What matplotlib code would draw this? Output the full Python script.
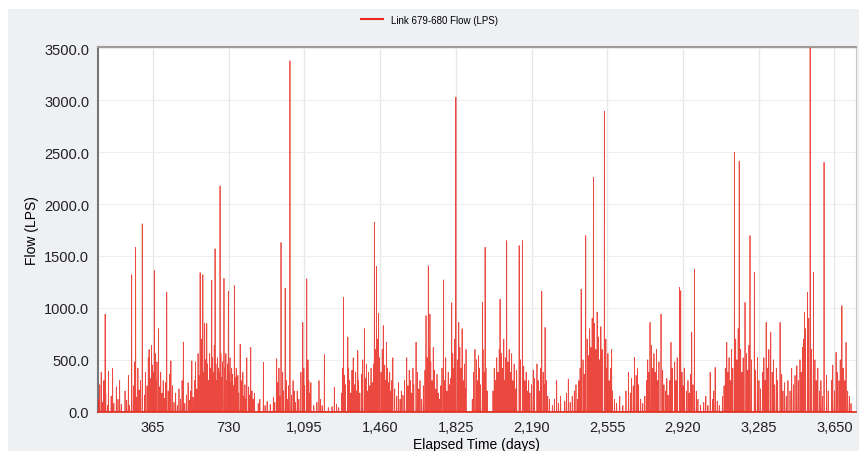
import numpy as np
import matplotlib
matplotlib.use('Agg')
import matplotlib.pyplot as plt
from matplotlib.patches import Rectangle
from matplotlib.ticker import FuncFormatter

plt.rcParams['font.family'] = ['Liberation Sans', 'DejaVu Sans']

# storm peaks (day, LPS)
peak_days = [134, 262, 281, 313, 371, 391, 431, 451, 511, 552, 592, 605, 624, 648, 664, 688,
             707, 728, 757, 785, 817, 836, 897, 961, 982, 1002, 1025, 1087, 1106, 1165, 1191,
             1239, 1283, 1304, 1352, 1384, 1432, 1442, 1452, 1475, 1491, 1521, 1588, 1633, 1681,
             1692, 1700, 1765, 1805, 1825, 1839, 1855, 1874, 1917, 1953, 1966, 2038, 2070, 2130,
             2146, 2239, 2255, 2311, 2367, 2429, 2451, 2488, 2541, 2576, 2657, 2686, 2761, 2814,
             2862, 2903, 2909, 2962, 2975, 3051, 3075, 3131, 3168, 3191, 3219, 3243, 3264, 3279,
             3321, 3343, 3388, 3469, 3506, 3520, 3533, 3549, 3600, 3658, 3686, 3706]
peak_flows = [940, 1320, 1585, 1810, 1360, 800, 1150, 490, 670, 490, 1340, 1320, 850, 1265, 1570, 2175,
              1285, 1160, 1215, 650, 520, 620, 475, 510, 1630, 1190, 3380, 860, 1280, 300, 550,
              235, 1100, 720, 590, 800, 1825, 1400, 950, 830, 670, 520, 520, 670, 925,
              1405, 940, 1270, 1050, 3030, 860, 800, 600, 600, 1055, 1585, 1085, 1648, 1600,
              1648, 1160, 812, 300, 315, 1180, 1696, 2258, 2895, 600, 380, 523, 861, 941,
              668, 1198, 1166, 764, 1374, 379, 427, 668, 2500, 2415, 1053, 1696, 1342, 523,
              861, 764, 861, 443, 957, 1150, 3505, 1342, 2402, 572, 1021, 668]

# smaller day-to-day flows (day, LPS)
minor_days = [102, 108, 115, 121, 128, 137, 145, 150, 163, 170, 176, 188, 196, 204, 212, 230, 238, 246, 252,
              270, 276, 287, 292, 298, 305, 324, 328,
              336, 342, 346, 352, 358, 362, 366, 376, 380, 384, 396, 402, 408, 414, 420, 426, 438, 444, 448, 458,
              466, 474, 482, 490, 498, 505, 518, 526, 534, 540, 546, 558,
              565, 570, 576, 582, 586, 596, 600, 610, 614, 618, 628, 632, 638, 642, 652, 656, 660, 668, 672, 676,
              680, 684, 692, 696, 700, 712, 716, 720, 724, 732, 736, 740, 744, 748, 752, 762, 766, 770, 774, 778,
              790, 794, 798, 804, 808, 812, 826, 830, 842, 848, 854,
              872, 880, 905, 915, 930, 945, 952,
              966, 972, 978, 990, 994, 1008, 1012, 1018, 1032, 1040, 1046, 1052, 1060, 1068, 1078, 1092, 1096,
              1112, 1116, 1120, 1126,
              1140, 1155, 1172, 1180, 1210, 1228, 1250, 1260,
              1275, 1279, 1288, 1292, 1308, 1312, 1318, 1324, 1330, 1336, 1342, 1346, 1356, 1362, 1370, 1376,
              1388, 1394, 1398, 1404, 1410, 1416, 1422, 1428, 1436, 1446, 1456, 1464, 1470, 1482, 1486, 1496,
              1500, 1506, 1512, 1516, 1530, 1540, 1548, 1556, 1562, 1570, 1578, 1594, 1600, 1606, 1612, 1618,
              1622, 1640, 1646, 1652, 1660, 1668, 1676, 1686, 1696,
              1704, 1710, 1716, 1722, 1728, 1734, 1740, 1746, 1752, 1758, 1770, 1776, 1782, 1788, 1794, 1800,
              1810, 1816, 1820, 1832, 1844, 1850, 1860, 1866, 1870,
              1904, 1910, 1924, 1928, 1934, 1938, 1944, 1956, 1960, 1970, 1976,
              2004, 2010, 2016, 2022, 2028, 2034, 2044, 2050, 2056, 2060, 2064, 2076, 2082, 2088, 2094, 2100,
              2106, 2112, 2118, 2136, 2152, 2158, 2164, 2170, 2176, 2182, 2190, 2198, 2204, 2216, 2222, 2228,
              2234, 2246, 2250, 2262, 2268, 2276,
              2290, 2300, 2320, 2330, 2350, 2358, 2376, 2386, 2396, 2404, 2412, 2418,
              2424, 2438, 2444, 2458, 2464, 2470, 2476, 2482, 2494, 2500, 2506, 2512, 2518, 2524, 2530, 2548,
              2552, 2558, 2564, 2572, 2580,
              2590, 2600, 2615, 2630, 2645, 2666, 2672, 2680, 2694, 2700, 2706, 2716, 2726, 2736,
              2744, 2750, 2756, 2768, 2774, 2780, 2786, 2792, 2798, 2804, 2822, 2828, 2836, 2842, 2848, 2856,
              2868, 2880, 2886, 2892, 2915, 2920, 2926,
              2936, 2944, 2950, 2956, 2968, 2984, 2992, 3005, 3020, 3030, 3040, 3062, 3068, 3085, 3095, 3110, 3118,
              3124, 3136, 3142, 3148, 3154, 3160, 3174, 3180, 3186, 3198, 3204, 3210, 3226, 3232, 3238, 3250,
              3270, 3286, 3294,
              3304, 3310, 3316, 3328, 3334, 3350, 3356, 3362, 3370, 3376, 3396, 3402, 3410, 3418, 3426, 3436,
              3444, 3452, 3460, 3476, 3484, 3490, 3496,
              3502, 3510, 3526, 3540, 3556, 3562, 3570, 3578, 3585, 3592, 3612, 3620, 3636, 3642, 3650, 3664,
              3672, 3678, 3692, 3700, 3714, 3722, 3730]
minor_flows = [120, 260, 380, 90, 300, 180, 60, 390, 150, 420, 80, 240, 120, 300, 70, 200, 110, 350, 60,
               250, 480, 140, 420, 210, 300, 160, 380,
               250, 520, 600, 320, 640, 450, 380, 560, 300, 480, 240, 380, 180, 300, 130, 280, 200, 360, 150, 250,
               90, 180, 60, 220, 120, 300, 80, 160, 280, 110, 200, 140,
               300, 480, 220, 560, 350, 420, 700, 380, 850, 500, 460, 300, 560, 420, 520, 380, 640, 460, 300, 520,
               420, 380, 560, 330, 480, 420, 560, 300, 460, 380, 520, 280, 420, 360, 250, 330, 420, 260, 350, 180,
               300, 200, 380, 150, 260, 120, 240, 160, 200, 120, 180,
               80, 120, 60, 100, 70, 140, 90,
               280, 420, 150, 380, 200, 300, 120, 250, 160, 300, 200, 90, 200, 120, 380, 420, 250,
               500, 300, 180, 280,
               60, 90, 120, 60, 40, 50, 70, 40,
               180, 420, 350, 260, 420, 300, 180, 400, 520, 260, 380, 200, 300, 180, 360, 500,
               320, 460, 200, 380, 250, 420, 280, 460, 600, 700, 520, 380, 600, 450, 300, 420,
               280, 380, 200, 300, 220, 150, 280, 120, 200, 160, 300, 250, 400, 300, 180, 420,
               260, 380, 220, 300, 120, 250, 400, 520, 600,
               480, 300, 620, 400, 220, 360, 180, 120, 250, 420, 300, 520, 200, 380, 260, 320,
               560, 420, 700, 500, 620, 420, 300, 460, 220,
               120, 380, 500, 300, 540, 420, 260, 600, 380, 420, 200,
               200, 420, 300, 520, 380, 600, 560, 420, 700, 300, 520, 480, 600, 380, 560, 300,
               460, 220, 400, 500, 440, 300, 380, 200, 300, 180, 260, 400, 320, 460, 300, 200,
               420, 380, 260, 300, 150, 120,
               60, 120, 80, 150, 100, 180, 90, 150, 200, 260, 120, 300,
               420, 500, 360, 700, 540, 800, 620, 900, 850, 600, 960, 720, 500, 820, 600, 700,
               420, 560, 300, 420, 200,
               120, 80, 150, 60, 200, 180, 320, 250, 350, 420, 260, 120, 80, 150,
               300, 500, 380, 640, 420, 560, 380, 600, 300, 480, 400, 260, 200, 320, 160, 300,
               420, 480, 300, 520, 380, 250, 420,
               200, 300, 180, 360, 260, 200, 120, 60, 90, 150, 60, 120, 200, 100, 60, 150, 250,
               420, 380, 520, 300, 600, 420, 700, 500, 800, 600, 380, 520, 560, 400, 640, 500,
               400, 300, 220,
               380, 520, 300, 420, 600, 380, 500, 260, 420, 300, 360, 200, 280, 150, 300, 200,
               420, 260, 350, 300, 500, 380, 620,
               700, 800, 900, 600, 500, 300, 420, 200, 300, 150, 350, 200, 300, 450, 200, 380,
               300, 500, 420, 300, 200, 150, 80]

first_day = 98
last_day = 3754
y_ticks = [0, 500, 1000, 1500, 2000, 2500, 3000, 3500]
x_ticks = [365, 730, 1095, 1460, 1825, 2190, 2555, 2920, 3285, 3650]

# daily series: days without a reading stay at zero
days = np.arange(first_day, last_day + 1)
flow = np.zeros(len(days))
for d, q in zip(minor_days, minor_flows):
    flow[d - first_day] = max(flow[d - first_day], q)
for d, q in zip(peak_days, peak_flows):
    flow[d - first_day] = max(flow[d - first_day], q)

fig = plt.figure(figsize=(8.59, 4.52), dpi=100)
fig.patch.set_facecolor('white')
fig.patches.append(Rectangle((8 / 859, 0), 1, 1 - 10 / 452, transform=fig.transFigure,
                             facecolor='#eef0f3', edgecolor='none', zorder=-10))

ax = fig.add_axes([0.1137, 0.0869, 0.8828, 0.8062])
ax.set_facecolor('white')
line, = ax.plot(days, flow, color='#e8281e', lw=0.55, alpha=0.85,
                label='Link 679-680 Flow (LPS)', zorder=3)

ax.set_xlim(first_day, last_day)
ax.set_ylim(0, 3510)
ax.set_yticks(y_ticks)
ax.set_xticks(x_ticks)
ax.yaxis.set_major_formatter(FuncFormatter(lambda v, p: '%.1f' % v))
ax.xaxis.set_major_formatter(FuncFormatter(lambda v, p: '{:,}'.format(int(v))))
ax.tick_params(length=0, labelsize=10.5, colors='#222222', pad=6)
ax.xaxis.grid(True, color='#e6e6e6', lw=0.9, zorder=0)
ax.yaxis.grid(True, color='#eeeeee', lw=0.8, zorder=0)

ax.spines['left'].set_color('#777777')
ax.spines['left'].set_linewidth(1.5)
ax.spines['top'].set_color('#a09a98')
ax.spines['top'].set_linewidth(1.5)
ax.spines['right'].set_color('#c8c8c8')
ax.spines['bottom'].set_color('#d83020')
ax.spines['bottom'].set_linewidth(1.2)

ax.set_ylabel('Flow (LPS)', fontsize=10, labelpad=4)
ax.set_xlabel('Elapsed Time (days)', fontsize=10, labelpad=2)

leg = fig.legend(loc='upper center', bbox_to_anchor=(0.5, 0.985), frameon=False, fontsize=7,
                 handlelength=2.2)
for h in leg.get_lines():
    h.set_linewidth(1.5)
    h.set_alpha(1)

fig.savefig('out.png', dpi=100, facecolor=fig.get_facecolor())
